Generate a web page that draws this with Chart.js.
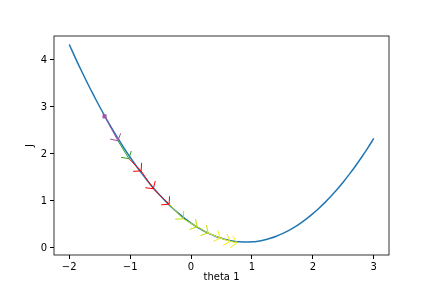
<html>
<head>
    <meta charset="utf-8" />
    <script src="https://cdn.jsdelivr.net/npm/chart.js@4.4.1/dist/chart.umd.min.js"></script>
    <style>
        html, body {
            margin: 0;
            padding: 0;
            background: #fff;
        }
        #wrap {
            width: 432px;
            height: 288px;
        }
    </style>
</head>
<body>
<div id="wrap"><canvas id="chart" width="432" height="288"></canvas></div>
<script>
    // cost curve J(theta1)
    const theta = [-2.0, -1.9, -1.8, -1.7, -1.6, -1.5, -1.4, -1.3, -1.2, -1.1, -1.0,
        -0.9, -0.8, -0.7, -0.6, -0.5, -0.4, -0.3, -0.2, -0.1, 0.0,
        0.1, 0.2, 0.3, 0.4, 0.5, 0.6, 0.7, 0.8, 0.9, 1.0,
        1.1, 1.2, 1.3, 1.4, 1.5, 1.6, 1.7, 1.8, 1.9, 2.0,
        2.1, 2.2, 2.3, 2.4, 2.5, 2.6, 2.7, 2.8, 2.9, 3.0];
    const cost = [4.33, 4.045, 3.77, 3.505, 3.25, 3.005, 2.77, 2.545, 2.33, 2.125, 1.93,
        1.745, 1.57, 1.405, 1.25, 1.105, 0.97, 0.845, 0.73, 0.625, 0.53,
        0.445, 0.37, 0.305, 0.25, 0.205, 0.17, 0.145, 0.13, 0.125, 0.13,
        0.145, 0.17, 0.205, 0.25, 0.305, 0.37, 0.445, 0.53, 0.625, 0.73,
        0.845, 0.97, 1.105, 1.25, 1.405, 1.57, 1.745, 1.93, 2.125, 2.33];

    // gradient descent steps (arrow from step i to step i+1)
    const stepTheta = [-1.42, -1.20, -1.02, -0.82, -0.62, -0.36, -0.13, 0.10, 0.28, 0.48, 0.64, 0.75];
    const stepCost = [2.80, 2.28, 1.90, 1.64, 1.26, 0.93, 0.62, 0.45, 0.32, 0.21, 0.14, 0.11];
    const stepColors = ['#a24fa6', '#2ca02c', '#ff0000', '#ff0000', '#ff0000',
        '#bfe000', '#bfe000', '#bfe000', '#f2ee00', '#f2ee00', '#f2ee00'];

    const xTicks = [-2, -1, 0, 1, 2, 3];
    const yTicks = [0, 1, 2, 3, 4];

    const fontSpec = { family: "'DejaVu Sans', sans-serif", size: 10 };
    const fmt = (v) => String(v).replace('-', '\u2212');

    // arrows + axes frame
    const arrowPlugin = {
        id: 'arrows',
        afterDatasetsDraw(chart) {
            const ctx = chart.ctx;
            const xs = chart.scales.x, ys = chart.scales.y;
            ctx.save();
            ctx.lineWidth = 1;
            for (let i = 0; i < stepTheta.length - 1; i++) {
                const x0 = xs.getPixelForValue(stepTheta[i]);
                const y0 = ys.getPixelForValue(stepCost[i]);
                const x1 = xs.getPixelForValue(stepTheta[i + 1]);
                const y1 = ys.getPixelForValue(stepCost[i + 1]);
                const a = Math.atan2(y1 - y0, x1 - x0);
                const back = a + Math.PI;
                const len = 8;
                ctx.strokeStyle = stepColors[i];
                ctx.beginPath();
                ctx.moveTo(x0, y0);
                ctx.lineTo(x1, y1);
                ctx.moveTo(x1 + len * Math.cos(back - 0.85), y1 + len * Math.sin(back - 0.85));
                ctx.lineTo(x1, y1);
                ctx.lineTo(x1 + len * Math.cos(back + 0.85), y1 + len * Math.sin(back + 0.85));
                ctx.stroke();
            }
            // start marker
            ctx.fillStyle = stepColors[0];
            const sx = xs.getPixelForValue(stepTheta[0]), sy = ys.getPixelForValue(stepCost[0]);
            ctx.fillRect(sx - 2, sy - 2, 4, 4);
            // frame
            const ca = chart.chartArea;
            ctx.strokeStyle = '#000';
            ctx.lineWidth = 0.8;
            ctx.strokeRect(ca.left, ca.top, ca.right - ca.left, ca.bottom - ca.top);
            ctx.restore();
        }
    };

    new Chart(document.getElementById('chart'), {
        type: 'line',
        data: {
            datasets: [{
                data: theta.map((t, i) => ({ x: t, y: cost[i] })),
                borderColor: '#1f77b4',
                borderWidth: 1.5,
                pointRadius: 0,
                tension: 0.3,
                fill: false
            }]
        },
        options: {
            responsive: false,
            animation: false,
            layout: { padding: { left: 0, right: 43, top: 36, bottom: 0 } },
            plugins: {
                legend: { display: false },
                tooltip: { enabled: false }
            },
            scales: {
                x: {
                    type: 'linear',
                    min: -2.25,
                    max: 3.25,
                    afterBuildTicks: (s) => { s.ticks = xTicks.map(v => ({ value: v })); },
                    afterFit: (s) => { s.height = 33; },
                    grid: { drawOnChartArea: false, drawTicks: true, tickLength: 4, color: '#000' },
                    border: { display: false },
                    ticks: { color: '#000', font: fontSpec, padding: 2, maxRotation: 0, callback: fmt },
                    title: { display: true, text: 'theta 1', color: '#000', font: fontSpec, padding: { top: 0, bottom: 5 } }
                },
                y: {
                    type: 'linear',
                    min: -0.15,
                    max: 4.51,
                    afterBuildTicks: (s) => { s.ticks = yTicks.map(v => ({ value: v })); },
                    afterFit: (s) => { s.width = 54; },
                    grid: { drawOnChartArea: false, drawTicks: true, tickLength: 4, color: '#000' },
                    border: { display: false },
                    ticks: { color: '#000', font: fontSpec, padding: 3, callback: fmt },
                    title: { display: true, text: 'J', color: '#000', font: fontSpec, padding: { top: 24, bottom: 0 } }
                }
            }
        },
        plugins: [arrowPlugin]
    });
</script>
</body>
</html>
